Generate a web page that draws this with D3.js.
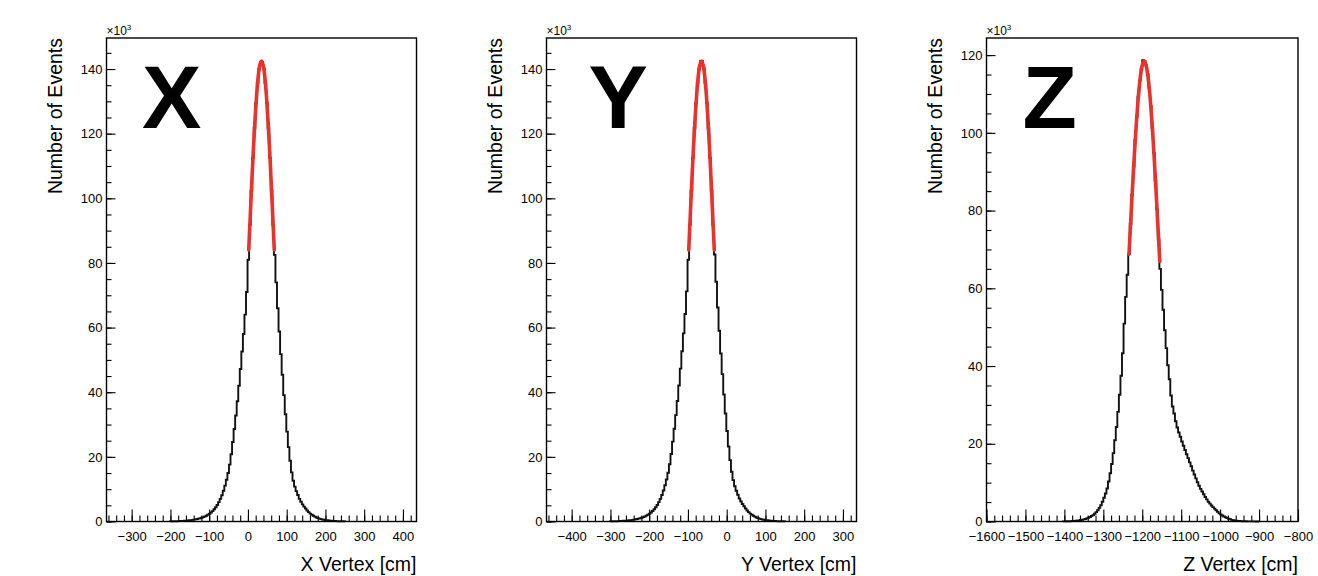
<!DOCTYPE html>
<html>
<head>
<meta charset="utf-8">
<script src="https://cdn.jsdelivr.net/npm/d3@7"></script>
<style>
  body { margin: 0; background: #fff; }
  text { font-family: "Liberation Sans", Arial, Helvetica, sans-serif; }
</style>
</head>
<body>
<svg id="chart" width="1318" height="576"></svg>
<script>
// bin width of all three histograms (cm)
var binWidth = 4;

// X vertex: counts in units of 10^3, first populated bin low edge
var xFirstEdge = -201;
var xCounts = [
  0.05, 0.06, 0.07, 0.08, 0.10, 0.12, 0.14, 0.17, 0.20, 0.23,
  0.27, 0.32, 0.37, 0.43, 0.50, 0.58, 0.67, 0.77, 0.88, 1.00,
  1.15, 1.35, 1.55, 1.80, 2.10, 2.40, 2.80, 3.20, 3.80, 4.40,
  5.10, 6.00, 7.00, 8.10, 9.50, 11.1, 12.9, 15.0, 17.6, 20.8,
  24.6, 28.6, 32.8, 37.2, 42.0, 47.2, 52.6, 58.0, 64.0, 71.0,
  81.0, 91.8, 102.4, 112.5, 121.7, 129.5, 135.7, 140.0, 142.2,
  142.2, 140.0, 135.7, 129.5, 121.7, 112.5, 102.4, 91.8, 82.5, 74.0,
  66.0, 58.8, 51.8, 45.4, 39.1, 33.2, 27.8, 23.0, 18.8, 15.2,
  12.6, 10.8, 9.4, 8.2, 7.0, 6.1, 5.3, 4.6, 4.0, 3.4,
  2.9, 2.45, 2.1, 1.8, 1.5, 1.25, 1.05, 0.88, 0.75, 0.63,
  0.53, 0.44, 0.37, 0.31, 0.26, 0.22, 0.18, 0.15, 0.12, 0.10,
  0.08, 0.07, 0.06, 0.05
];
var xFit = [[2,84],[6,94.5],[10,105],[14,114.9],[18,123.7],[22,131.2],[26,137],[30,140.8],[35,142.5],
            [40,140.8],[44,137],[48,131.2],[52,123.7],[56,114.9],[60,105],[64,94.5],[68,84]];

// Y vertex
var yFirstEdge = -301;
var yCounts = [
  0.05, 0.06, 0.07, 0.08, 0.10, 0.12, 0.15, 0.18, 0.21, 0.24,
  0.28, 0.33, 0.38, 0.44, 0.51, 0.59, 0.68, 0.78, 0.90, 1.02,
  1.17, 1.36, 1.57, 1.82, 2.10, 2.42, 2.80, 3.25, 3.80, 4.40,
  5.10, 6.00, 7.00, 8.20, 9.60, 11.2, 13.0, 15.1, 17.7, 20.9,
  24.7, 28.7, 32.9, 37.3, 42.1, 47.3, 52.7, 58.2, 64.2, 71.2,
  81.0, 91.8, 102.4, 112.5, 121.7, 129.5, 135.7, 140.1, 142.4,
  142.4, 140.1, 135.7, 129.5, 121.7, 112.5, 102.4, 91.8, 82.6, 74.2,
  66.2, 59.0, 52.0, 45.6, 39.3, 33.4, 28.0, 23.2, 19.0, 15.4,
  12.8, 10.9, 9.5, 8.3, 7.1, 6.2, 5.4, 4.7, 4.0, 3.4,
  2.9, 2.45, 2.1, 1.8, 1.5, 1.25, 1.05, 0.88, 0.75, 0.63,
  0.53, 0.44, 0.37, 0.31, 0.26, 0.22, 0.18, 0.15, 0.12, 0.10,
  0.08, 0.07, 0.06, 0.05
];
var yFit = [[-98,84],[-94,94.5],[-90,105],[-86,114.9],[-82,123.7],[-78,131.2],[-74,137],[-70,140.8],[-65,142.5],
            [-60,140.8],[-56,137],[-52,131.2],[-48,123.7],[-44,114.9],[-40,105],[-36,94.5],[-32,84]];

// Z vertex
var zFirstEdge = -1404;
var zCounts = [
  0.03, 0.04, 0.05, 0.06, 0.08, 0.10, 0.13, 0.16, 0.20, 0.25,
  0.30, 0.37, 0.45, 0.55, 0.66, 0.80, 0.95, 1.15, 1.40, 1.65,
  2.0, 2.4, 2.9, 3.5, 4.2, 5.1, 6.1, 7.2, 8.5, 10.3,
  12.4, 14.8, 17.6, 20.9, 24.3, 28.2, 32.6, 37.5, 43.3, 50.9,
  57.8, 63.5, 68.8, 76.5, 84.1, 91.3, 98.1, 104.2, 109.3, 113.5,
  116.4, 118.7, 118.5, 117.4, 115.1, 111.6, 106.9, 101.2, 94.8, 87.7,
  80.3, 72.6, 65.0, 59.6, 54.5, 49.2, 44.6, 40.2, 36.6, 32.4,
  29.6, 27.8, 25.8, 24.2, 22.9, 21.8, 20.6, 19.5, 18.4, 17.3,
  16.3, 15.2, 14.2, 13.1, 12.1, 11.1, 10.1, 9.2, 8.4, 7.7,
  7.0, 6.3, 5.7, 5.1, 4.6, 4.1, 3.7, 3.3, 2.9, 2.5,
  2.1, 1.8, 1.55, 1.3, 1.1, 0.9, 0.72, 0.56, 0.42, 0.32,
  0.25, 0.20, 0.16, 0.13, 0.10, 0.08, 0.06, 0.05, 0.04, 0.03,
  0.03, 0.02, 0.02, 0.02, 0.01, 0.01
];
var zFit = [[-1234,68.8],[-1230,76.5],[-1225,85.9],[-1220,94.8],[-1215,102.7],[-1210,109.3],[-1205,114.3],
            [-1200,117.4],[-1195,118.5],[-1190,117.4],[-1185,114.3],[-1180,109.3],[-1175,102.7],
            [-1170,94.8],[-1165,85.9],[-1160,76.5],[-1155,66.9]];

// axis ranges and tick values
var xRange = [-365, 435], yRange = [-465, 335], zRange = [-1600, -800];
var xTicks = [-300, -200, -100, 0, 100, 200, 300, 400];
var yTicks = [-400, -300, -200, -100, 0, 100, 200, 300];
var zTicks = [-1600, -1500, -1400, -1300, -1200, -1100, -1000, -900, -800];
var countMaxXY = 149.6, countMaxZ = 124.4;
var countTicksXY = [0, 20, 40, 60, 80, 100, 120, 140];
var countTicksZ = [0, 20, 40, 60, 80, 100, 120];
var titles = ["X Vertex [cm]", "Y Vertex [cm]", "Z Vertex [cm]"];
var letters = ["X", "Y", "Z"];

var panels = [
  {counts: xCounts, edge: xFirstEdge, fit: xFit, range: xRange, ticks: xTicks, cmax: countMaxXY, cticks: countTicksXY,
   title: titles[0], letter: letters[0], left: 106.5, width: 310, letterX: 35.5},
  {counts: yCounts, edge: yFirstEdge, fit: yFit, range: yRange, ticks: yTicks, cmax: countMaxXY, cticks: countTicksXY,
   title: titles[1], letter: letters[1], left: 546.5, width: 310, letterX: 42},
  {counts: zCounts, edge: zFirstEdge, fit: zFit, range: zRange, ticks: zTicks, cmax: countMaxZ, cticks: countTicksZ,
   title: titles[2], letter: letters[2], left: 986.5, width: 311.5, letterX: 36}
];

var frameTop = 38, frameBottom = 521.5;
var svg = d3.select("#chart");
var fmt = function(d) { return d < 0 ? "\u2212" + Math.abs(d) : String(d); };

panels.forEach(function(p) {
  var g = svg.append("g").attr("transform", "translate(" + p.left + "," + frameTop + ")");
  var h = frameBottom - frameTop;

  var x = d3.scaleLinear().domain(p.range).range([0, p.width]);
  var y = d3.scaleLinear().domain([0, p.cmax]).range([h, 0]);

  // minor ticks
  var xMinor = d3.range(Math.ceil(p.range[0] / 20) * 20, p.range[1] + 0.1, 20);
  var yMinor = d3.range(0, p.cmax, 5);

  g.append("g").attr("transform", "translate(0," + h + ")")
    .call(d3.axisBottom(x).tickValues(xMinor).tickSize(-6).tickFormat(""))
    .call(function(a) { a.select(".domain").remove(); });
  g.append("g").attr("transform", "translate(0," + h + ")")
    .call(d3.axisBottom(x).tickValues(p.ticks).tickSize(-12).tickPadding(10).tickFormat(fmt))
    .call(function(a) {
      a.select(".domain").remove();
      a.selectAll("text").attr("font-size", 13).attr("fill", "#000")
        .attr("font-family", "'Liberation Sans', Arial, sans-serif");
    });

  g.append("g")
    .call(d3.axisLeft(y).tickValues(yMinor).tickSize(-5).tickFormat(""))
    .call(function(a) { a.select(".domain").remove(); });
  g.append("g")
    .call(d3.axisLeft(y).tickValues(p.cticks).tickSize(-9).tickPadding(4))
    .call(function(a) {
      a.select(".domain").remove();
      a.selectAll("text").attr("font-size", 13).attr("fill", "#000")
        .attr("font-family", "'Liberation Sans', Arial, sans-serif");
    });
  g.selectAll(".tick line").attr("stroke", "#000").attr("stroke-width", 1.1);

  // histogram steps
  var pts = [[p.edge, 0]];
  p.counts.forEach(function(c, i) { pts.push([p.edge + i * binWidth, c]); });
  var last = p.counts[p.counts.length - 1];
  pts.push([p.edge + p.counts.length * binWidth, last]);
  pts.push([p.edge + p.counts.length * binWidth, 0]);

  var step = d3.line().x(function(d) { return x(d[0]); }).y(function(d) { return y(d[1]); })
    .curve(d3.curveStepAfter);
  g.append("path").datum(pts).attr("d", step)
    .attr("fill", "none").attr("stroke", "#111").attr("stroke-width", 1.9);

  // gaussian fit
  var smooth = d3.line().x(function(d) { return x(d[0]); }).y(function(d) { return y(d[1]); })
    .curve(d3.curveNatural);
  g.append("path").datum(p.fit).attr("d", smooth)
    .attr("fill", "none").attr("stroke", "#e8322b").attr("stroke-width", 3.6)
    .attr("stroke-linecap", "round");

  // frame
  g.append("rect").attr("width", p.width).attr("height", h)
    .attr("fill", "none").attr("stroke", "#000").attr("stroke-width", 1.4);

  // x10^3 multiplier
  var mult = g.append("text").attr("x", 0).attr("y", -3).attr("font-size", 12).attr("fill", "#000");
  mult.append("tspan").text("\u00d710");
  mult.append("tspan").attr("dy", -5).attr("font-size", 8).text("3");

  // axis titles
  g.append("text")
    .attr("transform", "translate(-45,0) rotate(-90)")
    .attr("text-anchor", "end").attr("font-size", 19.5).attr("fill", "#000")
    .text("Number of Events");
  g.append("text")
    .attr("x", p.width).attr("y", 571 - frameTop)
    .attr("text-anchor", "end").attr("font-size", 19.5).attr("fill", "#000")
    .text(p.title);

  // big panel letter
  g.append("text")
    .attr("x", p.letterX).attr("y", 128 - frameTop)
    .attr("font-size", 89).attr("font-weight", "bold").attr("fill", "#000")
    .text(p.letter);
});
</script>
</body>
</html>
